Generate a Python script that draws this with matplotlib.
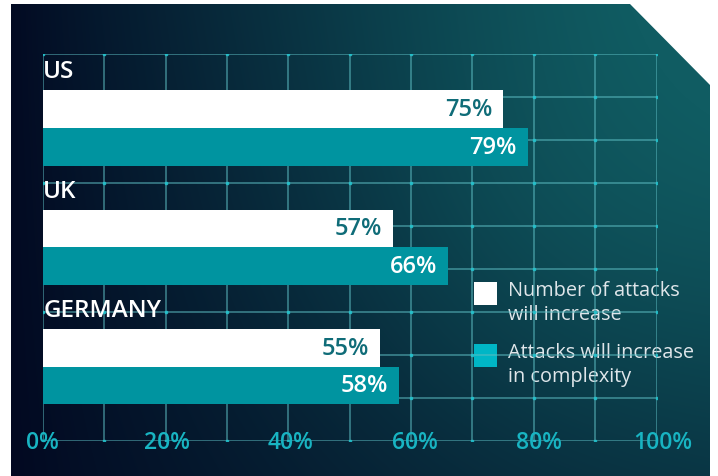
import numpy as np
import matplotlib
matplotlib.use("Agg")
import matplotlib.pyplot as plt
from matplotlib.patches import Polygon, Rectangle

plt.rcParams['font.family'] = ['Open Sans', 'DejaVu Sans']

# data
countries = ["US", "UK", "GERMANY"]
number_increase = [75, 57, 55]        # Number of attacks will increase
complexity_increase = [79, 66, 58]    # Attacks will increase in complexity
legend_labels = ["Number of attacks\nwill increase", "Attacks will increase\nin complexity"]
tick_values = [0, 20, 40, 60, 80, 100]

W, H = 718, 477
fig = plt.figure(figsize=(W / 100, H / 100), dpi=100)
fig.patch.set_facecolor("white")

# ---- background panel (pixel coordinates) ----
bg = fig.add_axes([0, 0, 1, 1])
bg.axis("off")

xx, yy = np.meshgrid(np.arange(W) + 0.5, np.arange(H) + 0.5)
xn, yn = xx / W, yy / H
t = xn ** 0.8 * (1 - 0.5 * yn) + 0.2 * np.exp(-((xx - 560) ** 2 + (yy - 210) ** 2) / (2 * 190 ** 2))
t = np.clip(t, 0, 1)[..., None]
dark = np.array([2, 7, 32]) / 255
teal = np.array([16, 92, 98]) / 255
img = dark * (1 - t) + teal * t
im = bg.imshow(img, extent=(0, W, H, 0), zorder=0)
panel = Polygon([(11, 5), (630, 5), (710, 86), (710, H), (11, H)], closed=True,
                facecolor="none", edgecolor="none", transform=bg.transData)
bg.add_patch(panel)
im.set_clip_path(panel)
bg.set_xlim(0, W)
bg.set_ylim(H, 0)

# ---- chart axes ----
x0, x1 = 42.7, 656.7
y0, y1 = 55.3, 442.3
ax = fig.add_axes([x0 / W, 1 - y1 / H, (x1 - x0) / W, (y1 - y0) / H])
ax.patch.set_alpha(0)
n_rows = 9
ax.set_xlim(0, 100)
ax.set_ylim(n_rows, 0)
for s in ax.spines.values():
    s.set_visible(False)
ax.set_xticks([])
ax.set_yticks([])

# grid with small markers at intersections
grid_col = "#5cbcc2"
for gx in range(0, 101, 10):
    ax.plot([gx, gx], [0, n_rows], color=grid_col, lw=1.2, alpha=0.6, zorder=1)
for gy in range(0, n_rows + 1):
    ax.plot([0, 100], [gy, gy], color=grid_col, lw=1.2, alpha=0.6, zorder=1)
gxs, gys = np.meshgrid(np.arange(0, 101, 10), np.arange(0, n_rows + 1))
ax.plot(gxs.ravel(), gys.ravel(), "s", ms=1.5, color="#22c4cf", alpha=0.8, zorder=1.5)

# bars
row_px = (y1 - y0) / n_rows
bar_h = 37.7 / row_px
group_step = 119.2 / row_px
first_top = (91.4 - y0) / row_px
tops = first_top + group_step * np.arange(len(countries))
white_c = tops + bar_h / 2
teal_c = tops + bar_h * 1.5

ax.barh(white_c, number_increase, height=bar_h, color="white", zorder=3)
ax.barh(teal_c, complexity_increase, height=bar_h, color="#0094a0", zorder=3)

pad = 11 / ((x1 - x0) / 100)
for i, name in enumerate(countries):
    ax.text(0.1, tops[i] - 19 / row_px, name, color="white", fontsize=17.5,
            fontweight="semibold", va="center", ha="left", zorder=4)
    ax.text(number_increase[i] - pad, white_c[i], f"{number_increase[i]}%",
            color="#0f6c78", fontsize=17, fontweight="semibold",
            va="center", ha="right", zorder=4)
    ax.text(complexity_increase[i] - pad, teal_c[i], f"{complexity_increase[i]}%",
            color="white", fontsize=17, fontweight="semibold",
            va="center", ha="right", zorder=4)

# x tick labels sitting on the bottom grid line (they drift slightly right in the original)
for v in tick_values:
    ax.text(v * 1.01, n_rows + 0.02, f"{v}%", color="#18b4c2", fontsize=16.5,
            fontweight="semibold", ha="center", va="center", clip_on=False, zorder=5)

# legend drawn in pixel coordinates
leg_cols = ["white", "#00b6c6"]
leg_tops = [283, 345]
for col, top, lab in zip(leg_cols, leg_tops, legend_labels):
    bg.add_patch(Rectangle((474, top), 23, 22.5, facecolor=col, edgecolor="none", zorder=6))
    bg.text(508, top - 2, lab, color="#dfe6ea", fontsize=14.3, va="top", ha="left",
            linespacing=1.3, zorder=6)

fig.savefig("out.png", dpi=100)
